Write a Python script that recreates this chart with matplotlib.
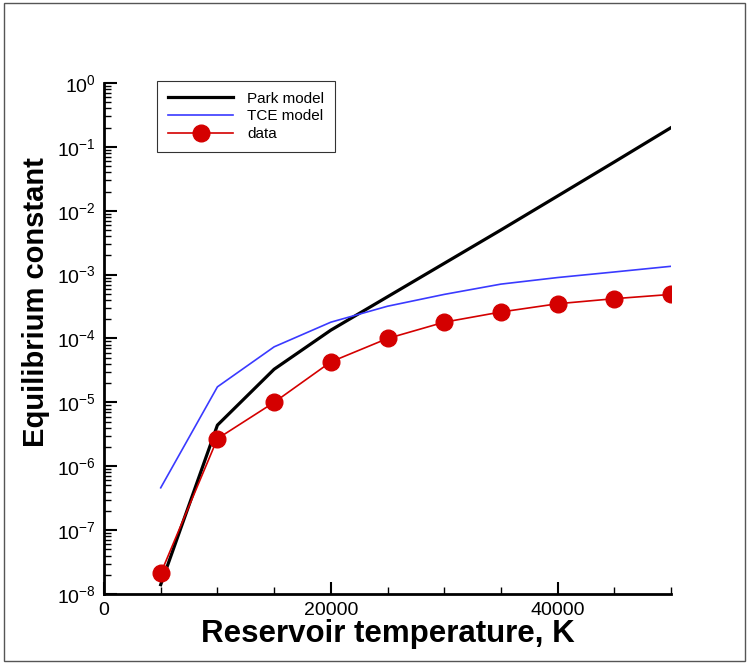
import numpy as np
import matplotlib
matplotlib.use("Agg")
import matplotlib.pyplot as plt
from matplotlib.ticker import LogLocator, MultipleLocator, NullFormatter
from matplotlib.patches import Rectangle

plt.rcParams['font.family'] = ['Liberation Sans', 'DejaVu Sans']
plt.rcParams['mathtext.fontset'] = 'custom'
plt.rcParams['mathtext.rm'] = 'Liberation Sans'
plt.rcParams['mathtext.it'] = 'Liberation Sans'

# --- data ---
temperature = [5000, 10000, 15000, 20000, 25000, 30000, 35000, 40000, 45000, 50000]
park_model = [1.4e-8, 4.4e-6, 3.3e-5, 1.35e-4, 4.5e-4, 1.5e-3, 5.0e-3, 1.7e-2, 5.8e-2, 0.2]
tce_model = [4.6e-7, 1.75e-5, 7.4e-5, 1.8e-4, 3.2e-4, 4.9e-4, 7.1e-4, 9.0e-4, 1.1e-3, 1.35e-3]
data_vals = [2.1e-8, 2.7e-6, 1.0e-5, 4.3e-5, 1.0e-4, 1.8e-4, 2.6e-4, 3.5e-4, 4.2e-4, 4.9e-4]

fig = plt.figure(figsize=(7.51, 6.66), dpi=100)
ax = fig.add_axes([0.1385, 0.1081, 0.755, 0.7673])

ax.plot(temperature, park_model, color='black', lw=2.3, label='Park model')
ax.plot(temperature, tce_model, color='#3a3aff', lw=1.2, label='TCE model')
ax.plot(temperature, data_vals, color='#d40000', lw=1.2, marker='o',
        markersize=12, label='data')

ax.set_yscale('log')
ax.set_xlim(0, 50000)
ax.set_ylim(1e-8, 1e0)

ax.xaxis.set_major_locator(MultipleLocator(20000))
ax.xaxis.set_minor_locator(MultipleLocator(5000))
ax.yaxis.set_major_locator(LogLocator(base=10, numticks=20))
ax.yaxis.set_minor_locator(LogLocator(base=10, subs=np.arange(2, 10), numticks=20))
ax.yaxis.set_minor_formatter(NullFormatter())

ax.spines['top'].set_visible(False)
ax.spines['right'].set_visible(False)
ax.spines['left'].set_linewidth(2)
ax.spines['bottom'].set_linewidth(2)
ax.tick_params(which='both', direction='in', labelsize=14, pad=6)
ax.tick_params(which='major', length=9, width=1.5)
ax.tick_params(which='minor', length=5, width=1)

ax.set_xlabel('Reservoir temperature, K', fontsize=22.5, fontweight='bold', labelpad=0)
ax.set_ylabel('Equilibrium constant', fontsize=21, fontweight='bold')
ax.yaxis.set_label_coords(-0.095, 0.571)

leg = ax.legend(loc='upper left', bbox_to_anchor=(0.0935, 1.004), borderaxespad=0,
                fontsize=11, frameon=True, fancybox=False, handlelength=4.3,
                borderpad=0.7, labelspacing=0.25, handletextpad=0.9)
leg.get_frame().set_edgecolor('black')
leg.get_frame().set_linewidth(0.8)

# thin frame around the whole picture
fig.patches.append(Rectangle((4 / 751, 5 / 666), 741 / 751, 658 / 666,
                             transform=fig.transFigure, fill=False,
                             edgecolor='#555555', lw=1))

fig.savefig('out.png', dpi=100)
